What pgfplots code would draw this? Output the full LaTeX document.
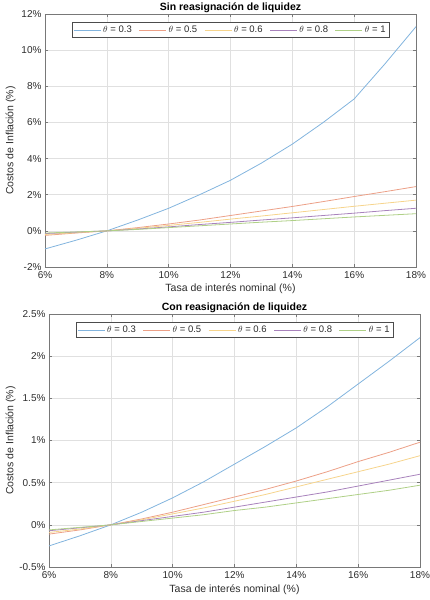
\documentclass[border=0pt]{standalone}
\usepackage{fontspec}
\setmainfont{Liberation Sans}
\usepackage{pgfplots}
\usepackage{pgfplotstable}
\pgfplotsset{compat=1.18}

\definecolor{mblue}{RGB}{130,180,222}
\definecolor{morange}{RGB}{236,160,135}
\definecolor{myellow}{RGB}{246,212,140}
\definecolor{mpurple}{RGB}{168,130,188}
\definecolor{mgreen}{RGB}{175,208,135}
\definecolor{axgray}{RGB}{120,120,120}
\definecolor{txt}{RGB}{45,45,45}

% Sin reasignacion
\pgfplotstableread{
x a b c d e
6 -1.00 -0.25 -0.20 -0.15 -0.12
7 -0.52 -0.12 -0.10 -0.07 -0.06
8 0.00 0.00 0.00 0.00 0.00
9 0.60 0.18 0.14 0.10 0.08
10 1.25 0.38 0.30 0.22 0.18
11 2.00 0.60 0.47 0.35 0.28
12 2.80 0.85 0.65 0.47 0.38
13 3.75 1.10 0.82 0.60 0.48
14 4.80 1.35 1.00 0.72 0.57
15 6.00 1.62 1.18 0.85 0.67
16 7.30 1.90 1.36 0.98 0.77
17 9.25 2.17 1.53 1.12 0.86
18 11.30 2.45 1.70 1.25 0.95
}\sinreas

% Con reasignacion
\pgfplotstableread{
x a b c d e
6 -0.25 -0.11 -0.09 -0.07 -0.06
7 -0.13 -0.06 -0.05 -0.035 -0.03
8 0.00 0.00 0.00 0.00 0.00
9 0.15 0.07 0.06 0.05 0.04
10 0.32 0.15 0.13 0.10 0.08
11 0.51 0.24 0.20 0.15 0.12
12 0.72 0.33 0.28 0.21 0.17
13 0.93 0.42 0.36 0.27 0.21
14 1.15 0.52 0.45 0.33 0.26
15 1.40 0.63 0.54 0.39 0.31
16 1.67 0.75 0.63 0.46 0.36
17 1.94 0.86 0.72 0.53 0.41
18 2.22 0.98 0.82 0.60 0.47
}\conreas

\pgfplotsset{
  matstyle/.style={
    scale only axis,
    width=371pt,
    height=253pt,
    xmin=6, xmax=18,
    xtick={6,8,...,18},
    xticklabel={\pgfmathprintnumber{\tick}\%},
    yticklabel={\pgfmathprintnumber{\tick}\%},
    /pgf/number format/assume math mode=true,
    grid=major,
    grid style={black!12, line width=0.5pt},
    axis line style={axgray, line width=0.6pt},
    tick style={axgray, line width=0.6pt},
    tick align=inside,
    major tick length=3pt,
    ticklabel style={font=\fontsize{10}{12}\selectfont, text=txt},
    xticklabel style={yshift=-1pt},
    label style={font=\fontsize{10.5}{12}\selectfont, text=txt},
    title style={font=\bfseries\fontsize{10.5}{12}\selectfont, text=black, yshift=-8pt},
    xlabel={Tasa de interés nominal (\%)},
    ylabel={Costos de Inflación (\%)},
    xlabel style={yshift=2pt},
    legend columns=5,
    legend style={at={(0.5,0.968)}, anchor=north, draw=black!70, line width=0.5pt,
      font=\fontsize{9.5}{11}\selectfont, text=txt, inner sep=1.5pt,
      /tikz/every even column/.append style={column sep=5pt}},
    legend image code/.code={\draw[#1] (0pt,0pt) -- (27pt,0pt);},
    every axis plot/.append style={line width=0.8pt},
  }
}

\begin{document}
\begin{tikzpicture}
\useasboundingbox (0pt,0pt) rectangle (430pt,-600pt);

\begin{axis}[
  matstyle,
  at={(45pt,-14pt)}, anchor=north west,
  ymin=-2, ymax=12,
  ytick={-2,0,2,4,6,8,10,12},
  title={Sin reasignación de liquidez},
  ylabel style={yshift=-1pt},
]
\addplot[draw=mblue] table[x=x,y=a] {\sinreas};
\addplot[draw=morange] table[x=x,y=b] {\sinreas};
\addplot[draw=myellow] table[x=x,y=c] {\sinreas};
\addplot[draw=mpurple] table[x=x,y=d] {\sinreas};
\addplot[draw=mgreen] table[x=x,y=e] {\sinreas};
\legend{$\theta$ = 0.3, $\theta$ = 0.5, $\theta$ = 0.6, $\theta$ = 0.8, $\theta$ = 1}
\end{axis}

\begin{axis}[
  matstyle,
  at={(49pt,-314pt)}, anchor=north west,
  ymin=-0.5, ymax=2.5,
  ytick={-0.5,0,0.5,1,1.5,2,2.5},
  title={Con reasignación de liquidez},
  ylabel style={yshift=-3pt},
  xlabel style={yshift=-1pt},
]
\addplot[draw=mblue] table[x=x,y=a] {\conreas};
\addplot[draw=morange] table[x=x,y=b] {\conreas};
\addplot[draw=myellow] table[x=x,y=c] {\conreas};
\addplot[draw=mpurple] table[x=x,y=d] {\conreas};
\addplot[draw=mgreen] table[x=x,y=e] {\conreas};
\legend{$\theta$ = 0.3, $\theta$ = 0.5, $\theta$ = 0.6, $\theta$ = 0.8, $\theta$ = 1}
\end{axis}
\end{tikzpicture}
\end{document}
